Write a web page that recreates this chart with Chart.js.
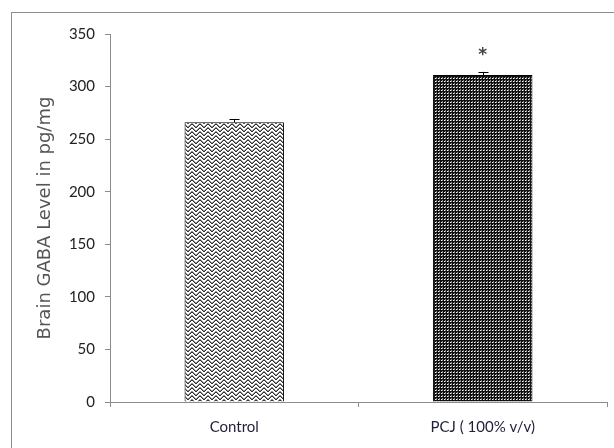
<!DOCTYPE html>
<html>
<head>
<meta charset="utf-8">
<script src="https://cdn.jsdelivr.net/npm/chart.js@4"></script>
<style>
  html, body { margin: 0; padding: 0; background: #fff; }
  #wrap { width: 614px; height: 448px; }
</style>
</head>
<body>
<div id="wrap"><canvas id="gabaChart" width="614" height="448"></canvas></div>
<script>
const categories = ["Control", "PCJ ( 100% v/v)"];
const gabaLevels = [266, 311];
const gabaErrors = [3, 3];
const significance = ["", "*"];
const yMin = 0, yMax = 350, yStep = 50;

// patrones de relleno tipo Excel
function makePattern(rows, ink, paper) {
  const c = document.createElement("canvas");
  c.width = rows[0].length;
  c.height = rows.length;
  const g = c.getContext("2d");
  g.fillStyle = paper;
  g.fillRect(0, 0, c.width, c.height);
  rows.forEach((row, y) => {
    [...row].forEach((p, x) => {
      if (p === "1") { g.fillStyle = ink; g.fillRect(x, y, 1, 1); }
      if (p === "2") { g.fillStyle = "#909090"; g.fillRect(x, y, 1, 1); }
    });
  });
  return g.createPattern(c, "repeat");
}
const ctx0 = document.getElementById("gabaChart").getContext("2d");
const zigzag = makePattern([
  "12000021",
  "01200210",
  "00122100",
  "20011002",
  "12000021",
  "01200210",
  "00122100",
  "20011002"
], "#333333", "#ffffff");
const dots = makePattern([
  "021",
  "111",
  "121"
], "#111111", "#ffffff");

// barras de error y asterisco
const extras = {
  id: "extras",
  beforeDraw(chart) {
    const c = chart.ctx;
    c.save();
    c.strokeStyle = "#8c8c8c";
    c.lineWidth = 1;
    c.strokeRect(11.5, 12.5, 800, 600);
    c.restore();
  },
  afterDatasetsDraw(chart) {
    const c = chart.ctx;
    const y = chart.scales.y;
    const meta = chart.getDatasetMeta(0);
    c.save();
    meta.data.forEach((bar, i) => {
      const x = bar.x;
      const top = y.getPixelForValue(gabaLevels[i] + gabaErrors[i]);
      const mid = y.getPixelForValue(gabaLevels[i]);
      c.strokeStyle = "#000";
      c.lineWidth = 1;
      c.beginPath();
      c.moveTo(Math.round(x) + 0.5, mid);
      c.lineTo(Math.round(x) + 0.5, top);
      c.moveTo(Math.round(x) - 4.5, Math.round(top) + 0.5);
      c.lineTo(Math.round(x) + 5.5, Math.round(top) + 0.5);
      c.stroke();
      if (significance[i]) {
        c.fillStyle = "#444";
        c.font = "bold 17px 'DejaVu Sans'";
        c.textAlign = "center";
        c.textBaseline = "middle";
        c.fillText(significance[i], x, top - 16);
      }
    });
    c.restore();
  }
};

new Chart(ctx0, {
  type: "bar",
  data: {
    labels: categories,
    datasets: [{
      data: gabaLevels,
      backgroundColor: [zigzag, dots],
      borderColor: "#000",
      borderWidth: 1,
      categoryPercentage: 0.8,
      barPercentage: 0.5
    }]
  },
  options: {
    responsive: false,
    animation: false,
    layout: { padding: { left: 0, top: 34, right: 7, bottom: 0 } },
    plugins: { legend: { display: false }, tooltip: { enabled: false } },
    scales: {
      x: {
        afterFit: s => { s.height = 46; },
        border: { color: "#8c8c8c" },
        grid: { offset: true, drawOnChartArea: false, tickLength: 5, color: "#8c8c8c" },
        ticks: { padding: 11, color: "#1f1f3a", font: { family: "Lato", size: 15 } }
      },
      y: {
        min: yMin,
        max: yMax,
        afterFit: s => { s.width = 110; },
        border: { color: "#8c8c8c" },
        grid: { drawOnChartArea: false, tickLength: 5, color: "#8c8c8c" },
        ticks: { stepSize: yStep, padding: 10, color: "#222", font: { family: "Lato", size: 15 } },
        title: {
          display: true,
          text: "Brain GABA Level in pg/mg",
          color: "#555",
          font: { family: "DejaVu Sans", size: 18 },
          padding: { top: 35, bottom: 0 }
        }
      }
    }
  },
  plugins: [extras]
});
</script>
</body>
</html>
